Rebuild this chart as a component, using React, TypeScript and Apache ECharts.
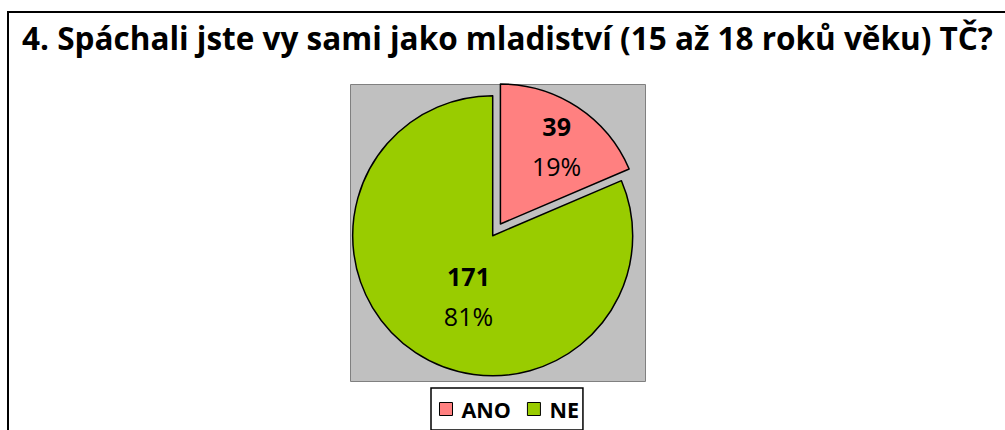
import React, { useEffect, useRef } from "react";
import * as echarts from "echarts";

const titleText = "4. Spáchali jste vy sami jako mladiství (15 až 18 roků věku) TČ?";
const categories = ["ANO", "NE"];
const values = [39, 171];
const colors = ["#FF8080", "#99CC00"];

const FONT = "'Open Sans'";

export default function App() {
  const ref = useRef<HTMLDivElement>(null);
  useEffect(() => {
    if (!ref.current) return;
    const chart = echarts.init(ref.current, null, { renderer: "svg" });
    const labelShift: Record<number, [number, number]> = { 0: [16, -17], 1: [16, -1] };
    chart.setOption({
      animation: false,
      backgroundColor: "#ffffff",
      title: {
        text: titleText,
        left: 22,
        top: 21,
        padding: 0,
        textStyle: { fontFamily: FONT, fontWeight: "bold", fontSize: 31.5, color: "#000" },
      },
      graphic: [
        {
          type: "rect",
          shape: { x: 8, y: 12, width: 1100, height: 500 },
          style: { fill: "none", stroke: "#000", lineWidth: 2 },
          silent: true,
          z: -10,
        },
        {
          type: "rect",
          shape: { x: 350.5, y: 84.5, width: 295, height: 297 },
          style: { fill: "#C0C0C0", stroke: "#808080", lineWidth: 1 },
          silent: true,
          z: -10,
        },
      ],
      legend: {
        data: categories,
        left: 431,
        top: 388,
        padding: [10, 4, 10, 8],
        itemGap: 16,
        itemWidth: 13,
        itemHeight: 13,
        icon: "rect",
        borderColor: "#000",
        borderWidth: 1.5,
        itemStyle: { borderColor: "#000", borderWidth: 1 },
        textStyle: { fontFamily: FONT, fontWeight: "bold", fontSize: 21.5, color: "#000", padding: [0, 0, 0, 4] },
      },
      series: [
        {
          type: "pie",
          center: [492.7, 235.7],
          radius: 140,
          startAngle: 90,
          clockwise: true,
          selectedMode: "single",
          selectedOffset: 14,
          avoidLabelOverlap: false,
          data: categories.map((c, i) => ({
            name: c,
            value: values[i],
            selected: i === 0,
            itemStyle: { color: colors[i] },
          })),
          itemStyle: { borderColor: "#000", borderWidth: 1.5 },
          select: { itemStyle: { borderColor: "#000", borderWidth: 1.5 } },
          emphasis: { disabled: true },
          label: {
            show: true,
            position: "inside",
            formatter: (p: any) => `{a|${p.value}}\n{b|${Math.round(p.percent)}%}`,
            rich: {
              a: { fontFamily: FONT, fontWeight: "bold", fontSize: 25, lineHeight: 40, color: "#000" },
              b: { fontFamily: FONT, fontSize: 25, lineHeight: 40, color: "#000" },
            },
          },
          labelLine: { show: false },
          labelLayout: (params: any) => {
            const s = labelShift[params.dataIndex] || [0, 0];
            return { dx: s[0], dy: s[1] };
          },
        },
      ],
    });
    return () => chart.dispose();
  }, []);
  return (
    <div
      ref={ref}
      style={{ position: "absolute", left: 0, top: 0, width: 1005, height: 430 }}
    />
  );
}
